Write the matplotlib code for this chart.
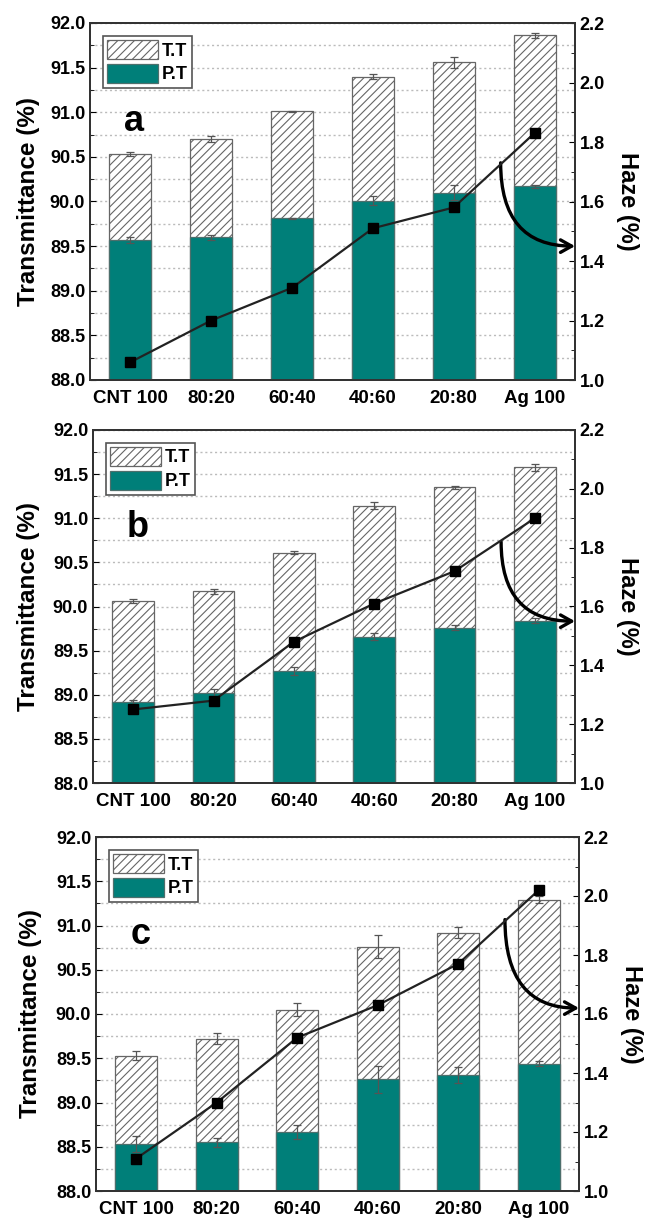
import matplotlib
matplotlib.use('Agg')
import matplotlib.pyplot as plt
import numpy as np
from matplotlib.patches import Patch
from matplotlib.ticker import MultipleLocator

# --- data ---
categories = ['CNT 100', '80:20', '60:40', '40:60', '20:80', 'Ag 100']

tt_a = [90.53, 90.70, 91.01, 91.40, 91.56, 91.86]
tt_err_a = [0.02, 0.03, 0.005, 0.03, 0.06, 0.03]
pt_a = [89.57, 89.60, 89.81, 90.01, 90.10, 90.17]
pt_err_a = [0.03, 0.03, 0.01, 0.05, 0.08, 0.02]
haze_a = [1.06, 1.20, 1.31, 1.51, 1.58, 1.83]

tt_b = [90.06, 90.17, 90.61, 91.14, 91.35, 91.58]
tt_err_b = [0.02, 0.03, 0.02, 0.04, 0.02, 0.04]
pt_b = [88.92, 89.02, 89.27, 89.66, 89.76, 89.84]
pt_err_b = [0.02, 0.05, 0.05, 0.04, 0.03, 0.03]
haze_b = [1.25, 1.28, 1.48, 1.61, 1.72, 1.90]

tt_c = [89.53, 89.72, 90.05, 90.76, 90.92, 91.29]
tt_err_c = [0.05, 0.06, 0.07, 0.13, 0.06, 0.04]
pt_c = [88.53, 88.55, 88.67, 89.26, 89.31, 89.44]
pt_err_c = [0.09, 0.05, 0.08, 0.15, 0.09, 0.03]
haze_c = [1.11, 1.30, 1.52, 1.63, 1.77, 2.02]

TEAL = '#007f79'
GREY = '#666666'

plt.rcParams['font.family'] = ['Liberation Sans', 'DejaVu Sans']
plt.rcParams['font.weight'] = 'bold'
plt.rcParams['hatch.linewidth'] = 0.8

fig = plt.figure(figsize=(6.46, 12.23), dpi=100)
W, H = 646, 1223


def box(l, r, t, b):
    return [l / W, (H - b) / H, (r - l) / W, (b - t) / H]


def draw_panel(rect, tt, tt_err, pt, pt_err, haze, letter, arrow, ylab_x, hlab_x):
    ax = fig.add_axes(rect)
    x = np.arange(len(categories))
    ax.bar(x, np.array(tt) - 88, bottom=88, width=0.52, facecolor='white',
           edgecolor=GREY, hatch='////', linewidth=0.9, zorder=2)
    ax.bar(x, np.array(pt) - 88, bottom=88, width=0.52, facecolor=TEAL,
           edgecolor='#4d6f6c', linewidth=0.9, zorder=3)
    ax.errorbar(x, tt, yerr=tt_err, fmt='none', ecolor='#555555', elinewidth=0.9,
                capsize=3, capthick=0.9, zorder=4)
    ax.errorbar(x, pt, yerr=pt_err, fmt='none', ecolor='#555555', elinewidth=0.9,
                capsize=3, capthick=0.9, zorder=4)

    ax.set_xlim(-0.5, 5.5)
    ax.set_ylim(88, 92)
    ax.yaxis.set_major_locator(MultipleLocator(0.5))
    ax.yaxis.set_minor_locator(MultipleLocator(0.25))
    ax.yaxis.set_major_formatter(plt.FormatStrFormatter('%.1f'))
    ax.set_xticks(x)
    ax.set_xticklabels(categories)
    ax.tick_params(axis='x', length=0, pad=7, labelsize=13.5)
    ax.tick_params(axis='y', which='both', direction='in', labelsize=13)
    ax.tick_params(axis='y', which='major', length=4)
    ax.tick_params(axis='y', which='minor', length=3)
    ax.set_axisbelow(True)
    ax.grid(axis='y', which='both', linestyle=(0, (1.5, 2)), color='#bbbbbb', lw=1)
    for s in ax.spines.values():
        s.set_linewidth(1.4)
        s.set_color('#333333')

    handles = [Patch(facecolor='white', edgecolor=GREY, hatch='////', lw=0.9),
               Patch(facecolor=TEAL, edgecolor='#4d6f6c', lw=0.9)]
    leg = ax.legend(handles, ['T.T', 'P.T'], loc='upper left', fancybox=False,
                    edgecolor='#555555', framealpha=1, prop={'weight': 'bold', 'size': 13},
                    handlelength=2.8, handleheight=1.2, handletextpad=0.2,
                    borderpad=0.25, labelspacing=0.25, borderaxespad=0.7)
    leg.get_frame().set_linewidth(1.2)
    ax.text(0.05, 90.9, letter, fontsize=26, fontweight='bold', ha='center', va='center')

    ax2 = ax.twinx()
    ax2.plot(x, haze, color='#222222', lw=1.6, marker='s', markersize=7.5,
             markerfacecolor='black', markeredgecolor='black', zorder=5)
    ax2.set_ylim(1.0, 2.2)
    ax2.yaxis.set_major_locator(MultipleLocator(0.2))
    ax2.yaxis.set_minor_locator(MultipleLocator(0.1))
    ax2.yaxis.set_major_formatter(plt.FormatStrFormatter('%.1f'))
    ax2.tick_params(axis='y', which='both', direction='in', labelsize=13)
    ax2.tick_params(axis='y', which='major', length=4)
    ax2.tick_params(axis='y', which='minor', length=3)
    for s in ax2.spines.values():
        s.set_linewidth(1.4)
        s.set_color('#333333')

    ax2.annotate('', xy=(5.5, arrow[1]), xytext=(4.58, arrow[0]),
                 arrowprops=dict(arrowstyle='->,head_length=0.8,head_width=0.45', lw=2.4,
                                 color='black', shrinkA=0, shrinkB=0,
                                 connectionstyle='angle3,angleA=90,angleB=0'),
                 annotation_clip=False)

    top = (1 - rect[1] - rect[3]) * H
    cy = 1 - (top + rect[3] * H / 2) / H
    fig.text(ylab_x / W, cy, 'Transmittance (%)', rotation=90, fontsize=17.5,
             fontweight='bold', ha='center', va='center')
    fig.text(hlab_x / W, cy, 'Haze (%)', rotation=270, fontsize=17,
             fontweight='bold', ha='center', va='center')


draw_panel(box(90, 575, 23, 380), tt_a, tt_err_a, pt_a, pt_err_a, haze_a, 'a',
           (1.73, 1.45), 29, 627)
draw_panel(box(93, 575, 430, 783), tt_b, tt_err_b, pt_b, pt_err_b, haze_b, 'b',
           (1.82, 1.55), 29, 627)
draw_panel(box(96, 579, 837, 1191), tt_c, tt_err_c, pt_c, pt_err_c, haze_c, 'c',
           (1.92, 1.62), 31, 632)

plt.savefig('out.png', dpi=100)
plt.close()
